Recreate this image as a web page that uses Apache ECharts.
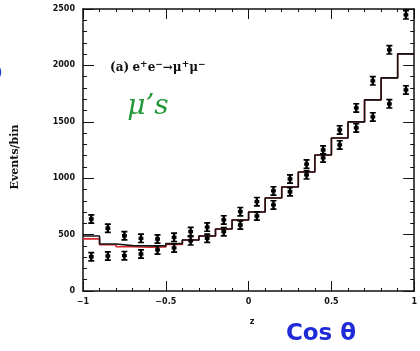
<!DOCTYPE html>
<html>
<head>
<meta charset="utf-8">
<script src="https://cdn.jsdelivr.net/npm/echarts@6/dist/echarts.min.js"></script>
<style>
  html, body { margin: 0; padding: 0; background: #fff; }
  #chart { width: 420px; height: 351px; }
</style>
</head>
<body>
<div id="chart"></div>
<script>
// Angular distribution of e+e- -> mu+mu- events, 20 bins in z = cos(theta)
const binEdges = [-1, -0.9, -0.8, -0.7, -0.6, -0.5, -0.4, -0.3, -0.2, -0.1, 0,
                  0.1, 0.2, 0.3, 0.4, 0.5, 0.6, 0.7, 0.8, 0.9, 1];
const binCenters = [-0.95, -0.85, -0.75, -0.65, -0.55, -0.45, -0.35, -0.25, -0.15, -0.05,
                    0.05, 0.15, 0.25, 0.35, 0.45, 0.55, 0.65, 0.75, 0.85, 0.95];

// expectation histograms (events per bin)
const histBlack = [488, 417, 402, 400, 400, 420, 452, 488, 550, 630,
                   700, 825, 922, 1055, 1206, 1357, 1499, 1694, 1889, 2102];
const histRed   = [462, 410, 392, 388, 390, 412, 452, 488, 550, 630,
                   700, 825, 922, 1055, 1206, 1357, 1499, 1694, 1889, 2102];

// measured points (events per bin)
const dataUpper = [638, 556, 490, 467, 461, 476, 527, 567, 630, 703,
                   792, 887, 993, 1125, 1250, 1428, 1623, 1863, 2138, 2448];
const dataLower = [304, 310, 313, 328, 364, 382, 445, 468, 526, 585,
                   665, 763, 880, 1030, 1180, 1295, 1446, 1543, 1659, 1783];

const xTicks = { min: -1, max: 1, step: 0.5 };
const yTicks = { min: 0, max: 2500, step: 500 };

// bin edges paired with bin contents; the last edge repeats the last bin
function stepData(vals) {
  return binEdges.map((e, i) => [e, vals[Math.min(i, vals.length - 1)]]);
}
function pointData(vals) {
  return binCenters.map((c, i) => [c, vals[i]]);
}

// bold "I"-shaped marker: point with short error bar and caps
const barGlyph = 'path://M0,0H10V3H7V6H9V12H7V15H10V18H0V15H3V12H1V6H3V3H0Z';

const tickFont = { color: '#111', fontSize: 8, fontWeight: 'bold', fontFamily: 'DejaVu Sans' };
const minus = v => (v < 0 ? '\u2212' + Math.abs(v) : String(v));

const axisCommonX = {
  type: 'value', min: xTicks.min, max: xTicks.max, interval: xTicks.step,
  axisLine: { show: true, onZero: false, lineStyle: { color: '#111', width: 1.5 } },
  axisTick: { show: true, inside: true, length: 10, lineStyle: { color: '#111', width: 1 } },
  minorTick: { show: true, splitNumber: 5, length: 3, lineStyle: { color: '#111', width: 1 } },
  splitLine: { show: false }
};
const axisCommonY = {
  type: 'value', min: yTicks.min, max: yTicks.max, interval: yTicks.step,
  axisLine: { show: true, onZero: false, lineStyle: { color: '#111', width: 1.5 } },
  axisTick: { show: true, inside: true, length: 11, lineStyle: { color: '#111', width: 1 } },
  minorTick: { show: true, splitNumber: 5, length: 4, lineStyle: { color: '#111', width: 1 } },
  splitLine: { show: false }
};

const chart = echarts.init(document.getElementById('chart'), null, { renderer: 'canvas' });

chart.setOption({
  backgroundColor: '#fff',
  animation: false,
  grid: { left: 83, right: 2, top: 9, bottom: 60 },
  xAxis: [
    Object.assign({}, axisCommonX, {
      position: 'bottom',
      axisLabel: Object.assign({ margin: 7, formatter: minus, showMinLabel: true, showMaxLabel: true }, tickFont)
    }),
    Object.assign({}, axisCommonX, { position: 'top', axisLabel: { show: false } })
  ],
  yAxis: [
    Object.assign({}, axisCommonY, {
      position: 'left',
      axisLabel: Object.assign({ margin: 8, formatter: v => String(v), showMinLabel: true, showMaxLabel: true }, tickFont)
    }),
    Object.assign({}, axisCommonY, { position: 'right', axisLabel: { show: false } })
  ],
  series: [
    {
      name: 'red histogram', type: 'line', step: 'end', data: stepData(histRed),
      symbol: 'none', lineStyle: { color: '#d8262a', width: 1.6 }, z: 2
    },
    {
      name: 'black histogram', type: 'line', step: 'end', data: stepData(histBlack),
      symbol: 'none', lineStyle: { color: '#151515', width: 1.6 }, z: 3
    },
    {
      name: 'data upper', type: 'scatter', data: pointData(dataUpper),
      symbol: barGlyph, symbolSize: [6, 10], itemStyle: { color: '#000', opacity: 1 }, z: 5
    },
    {
      name: 'data lower', type: 'scatter', data: pointData(dataLower),
      symbol: barGlyph, symbolSize: [6, 10], itemStyle: { color: '#000', opacity: 1 }, z: 5
    }
  ],
  graphic: [
    {
      type: 'text', x: 15, y: 157, rotation: Math.PI / 2,
      style: { text: 'Events/bin', align: 'center', verticalAlign: 'middle',
               font: 'bold 11px "DejaVu Serif"', fill: '#111' }
    },
    {
      type: 'text', x: 252, y: 322,
      style: { text: 'z', align: 'center', verticalAlign: 'middle',
               font: 'bold 8px "DejaVu Sans"', fill: '#111' }
    },
    {
      type: 'text', x: 110, y: 68,
      style: {
        text: '{b|(a)} {t|e}{s|+}{t|e}{s|\u2212}{t|\u2192\u03bc}{s|+}{t|\u03bc}{s|\u2212}',
        verticalAlign: 'middle',
        rich: {
          b: { font: 'bold 12px "DejaVu Serif"', fill: '#111' },
          t: { font: 'bold 12px "DejaVu Serif"', fill: '#111' },
          s: { font: 'bold 9px "DejaVu Serif"', fill: '#111', verticalAlign: 'top', padding: [0, 0, 6, 0] }
        }
      }
    },
    {
      type: 'text', x: 148, y: 107,
      style: { text: '\u03bc\u2019s', align: 'center', verticalAlign: 'middle',
               font: 'italic 28px "DejaVu Serif"', fill: '#23973a' }
    },
    {
      type: 'text', x: 321, y: 334,
      style: { text: 'Cos \u03b8', align: 'center', verticalAlign: 'middle',
               font: 'bold 23px "DejaVu Sans"', fill: '#1f2bd6' }
    },
    {
      type: 'text', x: -3, y: 73,
      style: { text: ')', align: 'left', verticalAlign: 'middle',
               font: '14px "DejaVu Sans"', fill: '#2a3bd8' }
    }
  ]
});
</script>
</body>
</html>
